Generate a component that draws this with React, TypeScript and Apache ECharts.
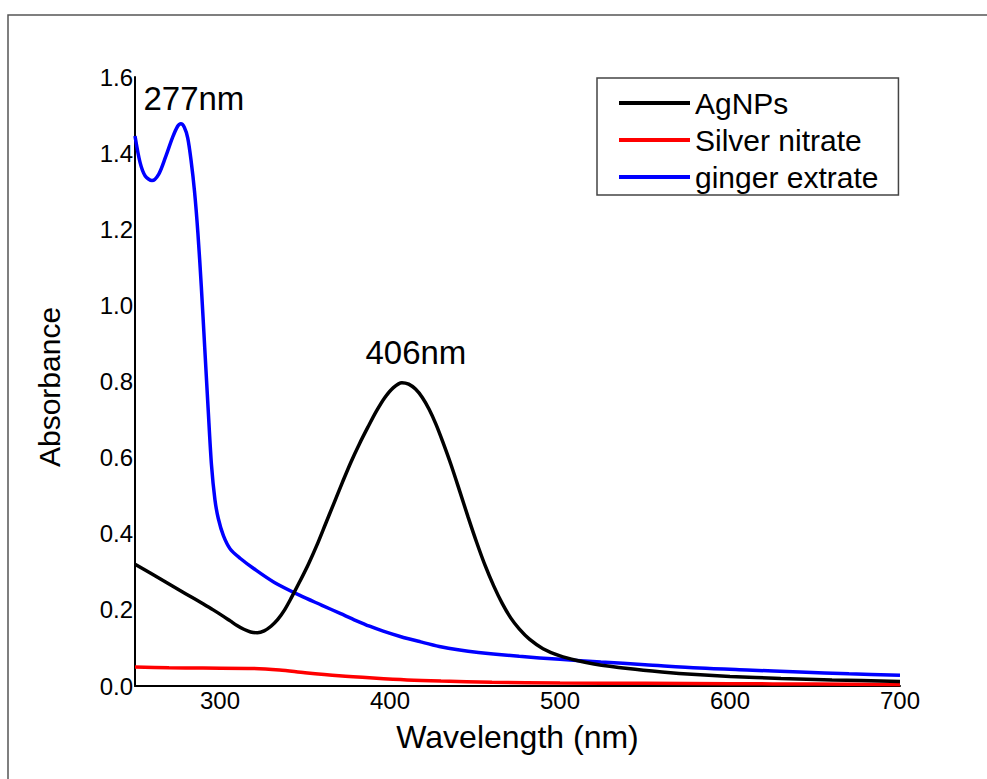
import React, { useEffect, useRef } from "react";
import * as echarts from "echarts";

// ---- data ----
const agWavelength = [250, 260, 270, 280, 290, 296, 302, 306, 310, 314, 318, 322, 326, 330, 334, 338, 342, 347, 352, 357, 362, 367, 372, 377, 382, 387, 392, 397, 402, 407, 411, 415, 419, 423, 427, 431, 436, 441, 446, 451, 456, 461, 466, 471, 476, 482, 490, 500, 510, 520, 540, 560, 580, 600, 630, 660, 700];
const agAbsorbance = [0.320, 0.294, 0.268, 0.242, 0.216, 0.200, 0.183, 0.171, 0.159, 0.149, 0.142, 0.140, 0.145, 0.157, 0.175, 0.200, 0.232, 0.275, 0.320, 0.370, 0.425, 0.480, 0.535, 0.588, 0.636, 0.680, 0.722, 0.758, 0.784, 0.797, 0.793, 0.780, 0.758, 0.727, 0.688, 0.642, 0.580, 0.512, 0.443, 0.377, 0.316, 0.263, 0.217, 0.179, 0.150, 0.123, 0.098, 0.079, 0.067, 0.058, 0.046, 0.037, 0.030, 0.025, 0.020, 0.016, 0.012];

const agno3Wavelength = [250, 270, 290, 320, 335, 350, 370, 390, 410, 430, 460, 500, 550, 600, 650, 700];
const agno3Absorbance = [0.050, 0.048, 0.047, 0.046, 0.042, 0.035, 0.027, 0.021, 0.016, 0.013, 0.010, 0.008, 0.007, 0.006, 0.005, 0.004];

const gingerWavelength = [250, 253, 256, 260, 264, 268, 272, 275, 277, 279, 281, 283, 285, 287, 289, 291, 293, 295, 297, 299, 302, 306, 312, 320, 332, 347, 360, 371, 380, 388, 396, 406, 418, 429, 440, 452, 476, 500, 524, 550, 582, 610, 641, 670, 700];
const gingerAbsorbance = [1.445, 1.375, 1.340, 1.328, 1.345, 1.390, 1.440, 1.470, 1.477, 1.468, 1.440, 1.380, 1.300, 1.190, 1.050, 0.890, 0.730, 0.580, 0.490, 0.440, 0.395, 0.360, 0.335, 0.308, 0.272, 0.238, 0.212, 0.190, 0.172, 0.157, 0.144, 0.130, 0.116, 0.104, 0.095, 0.088, 0.078, 0.070, 0.063, 0.056, 0.047, 0.042, 0.037, 0.032, 0.028];

const seriesNames = ["AgNPs", "Silver nitrate", "ginger extrate"];
const seriesColors = ["#000000", "#ff0000", "#0000ff"];
const xTicks = [300, 400, 500, 600, 700];
const peakLabels = ["406nm", "277nm"];

const FONT = "'Liberation Sans', Arial, Helvetica, sans-serif";

function pairs(xs: number[], ys: number[]) {
  return xs.map((x, i) => [x, ys[i]]);
}
function peakOf(xs: number[], ys: number[]) {
  let k = 0;
  ys.forEach((v, i) => { if (v > ys[k]) k = i; });
  return [xs[k], ys[k]];
}

export default function App() {
  const ref = useRef<HTMLDivElement>(null);
  useEffect(() => {
    if (!ref.current) return;
    const chart = echarts.init(ref.current, null, { renderer: "svg" });
    const agPeak = peakOf(agWavelength, agAbsorbance);
    const gPeak = peakOf(gingerWavelength, gingerAbsorbance);
    const markLabel = (text: string, offset: number[]) => ({
      symbol: "circle",
      symbolSize: 0,
      silent: true,
      label: {
        show: true,
        position: "inside",
        formatter: text,
        offset,
        fontSize: 33,
        fontFamily: FONT,
        color: "#000",
      },
    });
    chart.setOption({
      animation: false,
      backgroundColor: "#ffffff",
      graphic: [
        {
          type: "rect",
          shape: { x: 8, y: 15, width: 1100, height: 900 },
          style: { fill: "none", stroke: "#555555", lineWidth: 1.5 },
          silent: true,
        },
      ],
      grid: { left: 135, top: 77, right: 87, bottom: 93, containLabel: false },
      legend: {
        orient: "vertical",
        left: 597,
        top: 78,
        padding: [10, 20, 3, 22],
        icon: "rect",
        itemWidth: 71,
        itemHeight: 4,
        itemGap: 7,
        itemTextGap: 5,
        borderColor: "#444444",
        borderWidth: 1.5,
        data: seriesNames,
        textStyle: { fontSize: 30, lineHeight: 30, fontFamily: FONT, color: "#000" },
      },
      xAxis: {
        type: "value",
        min: 250,
        max: 700,
        interval: 50,
        name: "Wavelength (nm)",
        nameLocation: "middle",
        nameGap: 35,
        nameTextStyle: { fontSize: 32, fontFamily: FONT, color: "#000" },
        axisLine: { show: true, lineStyle: { color: "#000", width: 2 } },
        axisTick: { show: false },
        splitLine: { show: false },
        axisLabel: {
          fontSize: 24,
          fontFamily: FONT,
          color: "#000",
          margin: 2,
          formatter: (v: number) => (xTicks.includes(v) ? String(v) : ""),
        },
      },
      yAxis: {
        type: "value",
        min: 0,
        max: 1.6,
        interval: 0.2,
        name: "Absorbance",
        nameLocation: "middle",
        nameGap: 71,
        nameTextStyle: { fontSize: 30, fontFamily: FONT, color: "#000", padding: [0, 11, 0, 0] },
        axisLine: { show: true, lineStyle: { color: "#000", width: 2 } },
        axisTick: { show: false },
        splitLine: { show: false },
        axisLabel: {
          fontSize: 24,
          fontFamily: FONT,
          color: "#000",
          margin: 2,
          formatter: (v: number) => v.toFixed(1),
        },
      },
      series: [
        {
          name: seriesNames[0],
          type: "line",
          data: pairs(agWavelength, agAbsorbance),
          showSymbol: false,
          symbol: "none",
          smooth: 0.3,
          color: seriesColors[0],
          lineStyle: { color: seriesColors[0], width: 3.5 },
          markPoint: {
            data: [{ coord: agPeak, ...markLabel(peakLabels[0], [14, -30]) }],
          },
          z: 3,
        },
        {
          name: seriesNames[1],
          type: "line",
          data: pairs(agno3Wavelength, agno3Absorbance),
          showSymbol: false,
          symbol: "none",
          smooth: 0.3,
          color: seriesColors[1],
          lineStyle: { color: seriesColors[1], width: 3.5 },
          z: 2,
        },
        {
          name: seriesNames[2],
          type: "line",
          data: pairs(gingerWavelength, gingerAbsorbance),
          showSymbol: false,
          symbol: "none",
          smooth: 0.3,
          color: seriesColors[2],
          lineStyle: { color: seriesColors[2], width: 3.5 },
          markPoint: {
            data: [{ coord: gPeak, ...markLabel(peakLabels[1], [13, -25]) }],
          },
          z: 2,
        },
      ],
    });
    return () => chart.dispose();
  }, []);
  return (
    <div
      ref={ref}
      style={{ position: "absolute", left: 0, top: 0, width: 987, height: 779 }}
    />
  );
}
